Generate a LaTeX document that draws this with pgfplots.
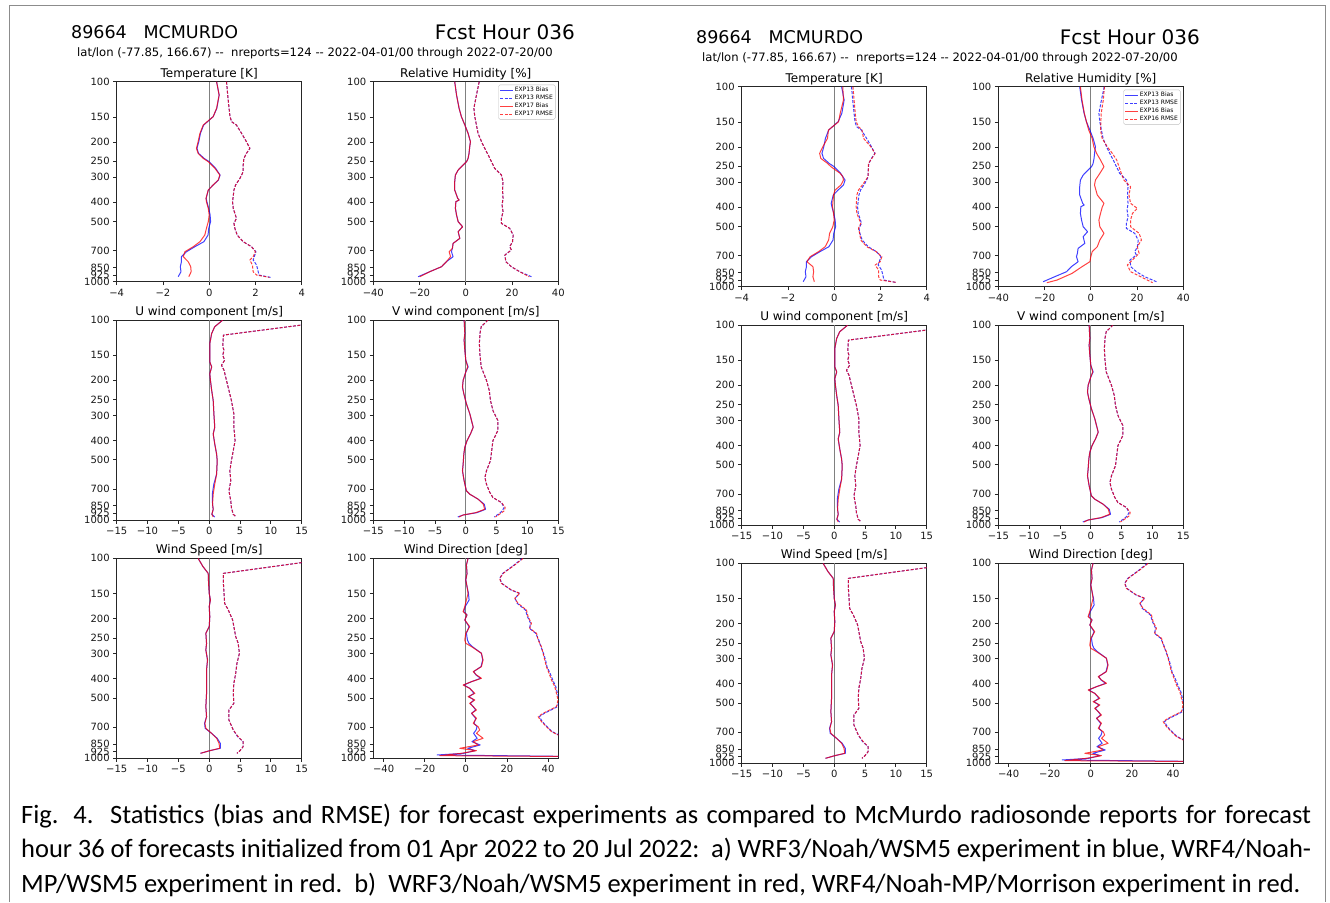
\documentclass[border=0pt]{standalone}
\usepackage{pgfplots}
\pgfplotsset{compat=1.18}
\usepackage{pgfplotstable}
\usepackage{fontspec}
\setmainfont{DejaVu Sans}
\newfontfamily\capfont{Carlito}

% global axis defaults (shared by all twelve panels)
\pgfplotsset{scale only axis, width=185pt, height=200pt}
\pgfplotsset{y dir=reverse, ymin=100, ymax=1000}
\pgfplotsset{ytick={100,150,200,250,300,400,500,700,850,925,1000},
    yticklabels={100,150,200,250,300,400,500,700,850,925,1000}}
\pgfplotsset{yminorticks=false, xminorticks=false, tick align=outside, tick pos=left, major tick length=3.5pt}
\pgfplotsset{tick style={black!85, line width=0.8pt}, axis line style={black!85, line width=0.9pt}}
\pgfplotsset{tick label style={font=\fontsize{10}{11}\selectfont, text=black!90}}
\pgfplotsset{title style={font=\fontsize{12}{13}\selectfont, inner sep=0pt, yshift=-4pt}}
\pgfplotsset{every axis plot/.append style={line width=1pt, line join=round}}
\pgfplotsset{legend cell align=left,
    legend style={at={(0.985,0.985)}, anchor=north east,
      font=\fontsize{6}{6.5}\selectfont, draw=black!25, line width=0.4pt,
      fill=white, rounded corners=1.5pt, inner xsep=1.5pt, inner ysep=1.2pt,
      nodes={inner sep=1pt}, row sep=0pt},
    legend image code/.code={\draw[#1, line width=0.8pt] (0pt,0pt) -- (13pt,0pt);}}
\tikzset{zline/.style={gray, line width=0.8pt, solid},
  sbA/.style={blue, draw opacity=0.75},
  srA/.style={blue, draw opacity=0.75, dash pattern=on 3pt off 1.5pt},
  sbR/.style={red, draw opacity=0.75},
  srR/.style={red, draw opacity=0.75, dash pattern=on 3pt off 1.5pt}}

% ---------------- EXP13 (blue) ----------------
\pgfplotstableread[row sep=\\]{
p v\\
100 0.32\\ 116.6 0.43\\ 135.9 0.33\\ 149.6 0.17\\ 164.8 -0.24\\ 181.3 -0.38\\ 199.5 -0.45\\ 215.4 -0.53\\
228.2 -0.46\\ 241.7 -0.22\\ 251.2 0.0\\ 271.3 0.28\\ 292.9 0.47\\ 310.2 0.40\\ 328.6 0.17\\ 348.1 -0.04\\
383.1 -0.13\\ 398.1 -0.10\\ 430.0 -0.02\\ 464.2 0.04\\ 501.2 0.06\\ 541.2 -0.02\\ 584.4 -0.05\\ 631.0 -0.23\\
668.3 -0.62\\ 707.9 -0.98\\ 749.9 -1.20\\ 794.3 -1.20\\ 841.4 -1.25\\ 891.3 -1.22\\ 944.1 -1.34\\
}\TbA
\pgfplotstableread[row sep=\\]{
p v\\
100 0.75\\ 116.6 0.80\\ 135.9 0.86\\ 149.6 0.90\\ 158.5 0.97\\ 164.8 1.18\\ 181.3 1.40\\ 199.5 1.61\\
215.4 1.76\\ 228.2 1.61\\ 241.7 1.50\\ 261.0 1.47\\ 281.8 1.47\\ 304.3 1.33\\ 328.6 1.14\\ 348.1 1.07\\
398.1 1.01\\ 430.0 1.04\\ 482.5 1.18\\ 510.9 1.07\\ 541.2 1.11\\ 584.4 1.21\\ 631.0 1.47\\ 668.3 1.83\\
707.9 2.02\\ 749.9 1.95\\ 779.1 1.90\\ 825.4 2.05\\ 891.3 2.12\\ 926.1 2.15\\ 951.3 2.65\\
}\TrA
\pgfplotstableread[row sep=\\]{
p v\\
100 -4.8\\ 116.6 -4.0\\ 135.9 -2.9\\ 149.6 -1.9\\ 164.8 -0.4\\ 181.3 1.0\\ 199.5 2.0\\ 211.3 1.7\\
228.2 1.4\\ 241.7 1.0\\ 251.2 0.3\\ 261.0 -1.2\\ 276.5 -3.3\\ 292.9 -4.5\\ 316.2 -4.8\\ 348.1 -4.8\\
383.1 -3.5\\ 390.5 -2.9\\ 398.1 -4.3\\ 430.0 -4.5\\ 464.2 -4.0\\ 501.2 -3.3\\ 530.9 -1.4\\ 562.3 -3.3\\
607.3 -2.6\\ 643.3 -5.5\\ 681.3 -5.8\\ 707.9 -6.2\\ 749.9 -5.5\\ 794.3 -8.4\\ 841.4 -10.5\\ 891.3 -15.6\\ 944.1 -20.6\\
}\HbA
\pgfplotstableread[row sep=\\]{
p v\\
100 5.8\\ 116.6 4.6\\ 135.9 3.5\\ 149.6 3.9\\ 164.8 4.6\\ 181.3 5.3\\ 199.5 6.8\\ 215.4 8.2\\
232.6 9.7\\ 251.2 11.1\\ 271.3 12.5\\ 292.9 15.4\\ 316.2 16.1\\ 348.1 15.9\\ 383.1 16.1\\ 413.7 15.7\\
446.7 16.1\\ 482.5 15.4\\ 510.9 15.4\\ 541.2 19.0\\ 584.4 20.5\\ 631.0 20.2\\ 668.3 19.0\\ 694.5 19.7\\
735.6 16.9\\ 794.3 17.3\\ 841.4 19.7\\ 891.3 23.3\\ 944.1 28.4\\
}\HrA
\pgfplotstableread[row sep=\\]{
p v\\
100 2.2\\ 108.0 0.9\\ 116.7 0.4\\ 131.0 0.1\\ 162.0 0.1\\ 171.6 0.4\\ 185.4 0.1\\ 200.3 0.2\\
224.8 0.4\\ 252.4 0.65\\ 294.4 0.76\\ 343.6 0.9\\ 371.1 0.65\\ 416.7 0.9\\ 467.7 1.2\\ 505.2 1.3\\
589.5 1.2\\ 662.0 0.75\\ 743.0 0.5\\ 834.4 0.54\\ 884.0 0.65\\ 936.6 0.43\\ 965.9 0.9\\
}\UbA
\pgfplotstableread[row sep=\\]{
p v\\
100 21.3\\ 119.0 2.3\\ 136.1 2.2\\ 141.5 2.4\\ 149.9 2.2\\ 158.9 2.5\\ 168.3 2.0\\ 178.3 2.4\\
200.3 2.8\\ 224.8 3.2\\ 252.4 3.6\\ 294.4 4.0\\ 343.6 4.0\\ 400.9 4.2\\ 450.0 3.9\\ 505.2 3.6\\
567.4 3.35\\ 636.8 3.5\\ 715.0 3.2\\ 802.6 3.5\\ 867.0 3.6\\ 936.6 3.9\\ 965.9 4.4\\
}\UrA
\pgfplotstableread[row sep=\\]{
p v\\
100 -0.27\\ 116.7 -0.16\\ 126.0 -0.27\\ 141.5 -0.16\\ 158.9 0.00\\ 171.6 0.38\\ 181.8 0.00\\ 200.3 -0.43\\
216.3 -0.54\\ 233.6 -0.32\\ 262.3 0.10\\ 294.4 0.65\\ 343.6 1.20\\ 371.1 0.76\\ 400.9 0.20\\ 433.0 -0.16\\
467.7 -0.32\\ 525.1 -0.43\\ 567.4 -0.54\\ 636.8 -0.27\\ 715.0 0.10\\ 743.0 0.65\\ 787.0 2.00\\ 834.4 3.00\\
884.0 3.20\\ 918.9 1.80\\ 943.9 -0.43\\ 965.9 -1.30\\
}\VbA
\pgfplotstableread[row sep=\\]{
p v\\
100 3.60\\ 108.0 2.50\\ 116.7 2.30\\ 131.0 2.20\\ 149.9 2.30\\ 171.6 2.50\\ 200.3 3.35\\ 224.8 3.80\\
252.4 4.00\\ 283.4 4.40\\ 318.1 5.20\\ 357.1 5.20\\ 400.9 4.40\\ 450.0 4.20\\ 505.2 4.00\\ 567.4 3.35\\
612.8 3.10\\ 662.0 3.35\\ 729.0 3.90\\ 772.2 4.40\\ 818.4 5.80\\ 867.0 6.20\\ 901.0 5.90\\ 929.5 5.40\\ 965.9 4.60\\
}\VrA
\pgfplotstableread[row sep=\\]{
p v\\
100 -1.8\\ 110.1 -1.0\\ 118.9 -0.16\\ 133.4 -0.1\\ 149.6 0.0\\ 161.6 0.2\\ 174.5 0.0\\ 195.7 0.1\\
219.6 0.0\\ 237.1 -0.54\\ 266.1 -0.43\\ 287.3 -0.54\\ 322.4 -0.27\\ 361.7 -0.43\\ 405.8 -0.43\\ 473.2 -0.43\\
551.7 -0.54\\ 618.9 -0.43\\ 668.3 -0.75\\ 707.9 -0.65\\ 749.9 0.38\\ 794.3 1.3\\ 841.4 1.8\\ 891.3 1.8\\
915.5 0.1\\ 944.1 -1.4\\
}\SbA
\pgfplotstableread[row sep=\\]{
p v\\
100 20.1\\ 118.9 2.3\\ 133.4 2.3\\ 149.6 2.4\\ 167.9 2.5\\ 181.3 3.1\\ 203.4 3.8\\ 219.6 4.0\\
246.4 4.3\\ 266.1 4.7\\ 298.5 4.9\\ 335.0 4.5\\ 375.8 4.3\\ 421.7 4.0\\ 473.2 3.9\\ 530.9 4.0\\
573.2 3.2\\ 643.3 3.2\\ 721.7 3.9\\ 779.1 4.6\\ 825.4 5.5\\ 874.2 5.5\\ 915.5 5.0\\ 944.1 4.5\\
}\SrA
\pgfplotstableread[row sep=\\]{
p v\\
100 1.1\\ 108.0 0.3\\ 118.9 0.6\\ 128.3 0.0\\ 138.6 0.6\\ 149.6 1.3\\ 161.6 1.6\\ 174.5 -0.3\\
184.8 -1.0\\ 192.0 0.6\\ 203.4 -0.5\\ 219.6 1.6\\ 237.1 0.3\\ 256.1 0.8\\ 266.1 1.5\\ 276.5 3.2\\
298.5 7.6\\ 322.4 8.2\\ 348.1 7.4\\ 368.7 3.8\\ 383.1 5.0\\ 398.1 7.2\\ 413.7 2.8\\ 430.0 -1.0\\
446.7 1.9\\ 473.2 4.0\\ 491.7 1.5\\ 510.9 4.0\\ 530.9 2.2\\ 551.7 3.6\\ 573.2 4.8\\ 595.7 2.8\\
631.0 4.8\\ 668.3 4.0\\ 694.5 5.5\\ 721.7 5.0\\ 749.9 3.8\\ 794.3 5.5\\ 825.4 3.0\\ 857.7 7.0\\
891.3 1.0\\ 915.5 4.5\\ 944.1 -1.0\\ 962.3 -13.9\\ 981.0 60\\
}\DbA
\pgfplotstableread[row sep=\\]{
p v\\
100 27.5\\ 108.0 23.5\\ 118.9 18.0\\ 125.9 16.5\\ 133.4 17.5\\ 144.0 22.0\\ 149.6 26.0\\ 158.5 24.0\\
167.9 25.0\\ 181.3 29.0\\ 195.7 30.0\\ 211.3 31.5\\ 223.9 31.0\\ 237.1 34.0\\ 256.1 35.5\\ 276.5 36.5\\
298.5 37.8\\ 322.4 38.8\\ 348.1 39.5\\ 375.8 41.0\\ 405.8 42.3\\ 438.3 43.8\\ 473.2 44.6\\ 510.9 45.6\\
551.7 44.6\\ 573.2 41.5\\ 595.7 38.2\\ 618.9 35.8\\ 655.6 37.2\\ 694.5 39.5\\ 735.6 42.0\\ 764.2 45.3\\
809.6 50\\ 981.0 55\\
}\DrA

% ---------------- red wind tables (shared) ----------------
\pgfplotstableread[row sep=\\]{
p v\\
100 1.1\\ 108.0 0.3\\ 118.9 0.6\\ 128.3 0.0\\ 138.6 0.6\\ 149.6 1.1\\ 161.6 0.3\\ 174.5 -0.5\\
184.8 -1.3\\ 192.0 0.6\\ 203.4 -0.5\\ 219.6 1.9\\ 237.1 0.0\\ 256.1 -0.5\\ 266.1 0.0\\ 276.5 2.8\\
298.5 7.6\\ 322.4 8.4\\ 348.1 7.6\\ 368.7 3.6\\ 383.1 5.2\\ 398.1 7.6\\ 413.7 2.8\\ 430.0 -1.3\\
446.7 1.9\\ 473.2 4.4\\ 491.7 1.1\\ 510.9 4.4\\ 530.9 1.9\\ 551.7 3.6\\ 573.2 5.2\\ 595.7 2.8\\
631.0 5.2\\ 668.3 3.6\\ 694.5 6.0\\ 721.7 6.8\\ 749.9 5.2\\ 794.3 8.4\\ 825.4 3.6\\ 857.7 6.0\\
891.3 -2.9\\ 915.5 5.2\\ 944.1 -2.1\\ 969.7 -12.6\\ 981.0 60\\
}\DbR
\pgfplotstableread[row sep=\\]{
p v\\
100 27.9\\ 108.0 23.8\\ 118.9 18.2\\ 125.9 16.5\\ 133.4 17.3\\ 144.0 22.2\\ 149.6 26.3\\ 158.5 23.8\\
167.9 25.4\\ 181.3 29.5\\ 195.7 30.3\\ 211.3 31.9\\ 223.9 31.1\\ 237.1 34.4\\ 256.1 35.2\\ 276.5 36.8\\
298.5 37.6\\ 322.4 38.4\\ 348.1 39.2\\ 375.8 40.5\\ 405.8 41.7\\ 438.3 43.3\\ 473.2 44.1\\ 510.9 44.9\\
551.7 44.1\\ 573.2 40.8\\ 595.7 37.6\\ 618.9 35.2\\ 655.6 36.8\\ 694.5 39.2\\ 735.6 41.7\\ 764.2 44.9\\
809.6 50\\ 981.0 55\\
}\DrR
\pgfplotstableread[row sep=\\]{
p v\\
100 2.2\\ 108.0 0.9\\ 116.7 0.4\\ 131.0 0.1\\ 162.0 0.1\\ 171.6 0.4\\ 185.4 0.1\\ 200.3 0.2\\
224.8 0.4\\ 252.4 0.65\\ 294.4 0.76\\ 343.6 0.9\\ 371.1 0.65\\ 416.7 0.9\\ 467.7 1.2\\ 505.2 1.3\\
589.5 1.2\\ 662.0 0.9\\ 743.0 0.65\\ 834.4 0.54\\ 884.0 0.65\\ 936.6 0.43\\ 965.9 0.65\\
}\UbR
\pgfplotstableread[row sep=\\]{
p v\\
100 21.3\\ 119.0 2.3\\ 136.1 2.2\\ 141.5 2.4\\ 149.9 2.2\\ 158.9 2.5\\ 168.3 2.0\\ 178.3 2.4\\
200.3 2.8\\ 224.8 3.2\\ 252.4 3.6\\ 294.4 4.0\\ 343.6 4.0\\ 400.9 4.2\\ 450.0 3.9\\ 505.2 3.6\\
567.4 3.35\\ 636.8 3.5\\ 715.0 3.2\\ 802.6 3.5\\ 867.0 3.6\\ 936.6 3.9\\ 965.9 4.4\\
}\UrR
\pgfplotstableread[row sep=\\]{
p v\\
100 -0.27\\ 116.7 -0.16\\ 126.0 -0.27\\ 141.5 -0.16\\ 158.9 0.00\\ 171.6 0.30\\ 181.8 0.00\\ 200.3 -0.43\\
216.3 -0.54\\ 233.6 -0.32\\ 262.3 0.10\\ 294.4 0.65\\ 343.6 1.20\\ 371.1 0.76\\ 400.9 0.20\\ 433.0 -0.16\\
467.7 -0.32\\ 525.1 -0.43\\ 567.4 -0.54\\ 636.8 -0.27\\ 715.0 0.10\\ 743.0 0.65\\ 787.0 2.00\\ 834.4 2.85\\
884.0 3.05\\ 918.9 1.60\\ 943.9 -0.43\\ 965.9 -1.10\\
}\VbR
\pgfplotstableread[row sep=\\]{
p v\\
100 3.60\\ 108.0 2.50\\ 116.7 2.30\\ 131.0 2.20\\ 149.9 2.30\\ 171.6 2.50\\ 200.3 3.35\\ 224.8 3.80\\
252.4 4.00\\ 283.4 4.40\\ 318.1 5.20\\ 357.1 5.20\\ 400.9 4.40\\ 450.0 4.20\\ 505.2 4.00\\ 567.4 3.35\\
612.8 3.10\\ 662.0 3.35\\ 729.0 3.90\\ 772.2 4.40\\ 818.4 5.80\\ 867.0 6.40\\ 901.0 6.20\\ 929.5 5.60\\ 965.9 4.80\\
}\VrR
\pgfplotstableread[row sep=\\]{
p v\\
100 -1.8\\ 110.1 -1.0\\ 118.9 -0.16\\ 133.4 -0.1\\ 149.6 0.0\\ 161.6 0.2\\ 174.5 0.0\\ 195.7 0.1\\
219.6 0.0\\ 237.1 -0.54\\ 266.1 -0.43\\ 287.3 -0.54\\ 322.4 -0.27\\ 361.7 -0.43\\ 405.8 -0.43\\ 473.2 -0.43\\
551.7 -0.54\\ 618.9 -0.43\\ 668.3 -0.7\\ 707.9 -0.54\\ 749.9 0.38\\ 794.3 1.2\\ 841.4 1.6\\ 891.3 1.7\\
915.5 0.1\\ 944.1 -1.4\\
}\SbR
\pgfplotstableread[row sep=\\]{
p v\\
100 20.1\\ 118.9 2.3\\ 133.4 2.3\\ 149.6 2.4\\ 167.9 2.5\\ 181.3 3.1\\ 203.4 3.8\\ 219.6 4.0\\
246.4 4.3\\ 266.1 4.7\\ 298.5 4.9\\ 335.0 4.5\\ 375.8 4.3\\ 421.7 4.0\\ 473.2 3.9\\ 530.9 4.0\\
573.2 3.2\\ 643.3 3.2\\ 721.7 3.9\\ 779.1 4.7\\ 825.4 5.5\\ 874.2 5.5\\ 915.5 5.0\\ 944.1 4.5\\
}\SrR

% ---------------- EXP17 temperature / RH ----------------
\pgfplotstableread[row sep=\\]{
p v\\
100 0.32\\ 116.6 0.43\\ 135.9 0.32\\ 149.6 0.17\\ 164.8 -0.26\\ 181.3 -0.40\\ 199.5 -0.48\\ 215.4 -0.55\\
228.2 -0.48\\ 241.7 -0.26\\ 251.2 -0.04\\ 271.3 0.25\\ 292.9 0.46\\ 310.2 0.39\\ 328.6 0.17\\ 348.1 -0.04\\
383.1 -0.14\\ 398.1 -0.12\\ 430.0 -0.04\\ 464.2 0.00\\ 501.2 -0.04\\ 541.2 -0.12\\ 584.4 -0.19\\ 631.0 -0.40\\
668.3 -0.69\\ 707.9 -1.05\\ 749.9 -1.12\\ 794.3 -0.91\\ 841.4 -0.80\\ 891.3 -0.78\\ 944.1 -0.88\\
}\TbQ
\pgfplotstableread[row sep=\\]{
p v\\
100 0.75\\ 116.6 0.80\\ 135.9 0.86\\ 149.6 0.90\\ 158.5 0.97\\ 164.8 1.18\\ 181.3 1.40\\ 199.5 1.61\\
215.4 1.76\\ 228.2 1.61\\ 241.7 1.50\\ 261.0 1.47\\ 281.8 1.47\\ 304.3 1.33\\ 328.6 1.14\\ 348.1 1.07\\
398.1 1.01\\ 430.0 1.04\\ 482.5 1.18\\ 510.9 1.07\\ 541.2 1.11\\ 584.4 1.21\\ 631.0 1.47\\ 668.3 1.83\\
707.9 2.00\\ 749.9 1.90\\ 779.1 1.76\\ 825.4 1.87\\ 891.3 1.90\\ 926.1 2.05\\ 951.3 2.60\\
}\TrQ
\pgfplotstableread[row sep=\\]{
p v\\
100 -4.8\\ 116.6 -4.0\\ 135.9 -2.9\\ 149.6 -1.9\\ 164.8 -0.4\\ 181.3 1.0\\ 199.5 2.0\\ 211.3 1.7\\
228.2 1.4\\ 241.7 1.0\\ 251.2 0.3\\ 261.0 -1.2\\ 276.5 -3.3\\ 292.9 -4.5\\ 316.2 -4.8\\ 348.1 -4.8\\
383.1 -3.5\\ 390.5 -2.9\\ 398.1 -4.3\\ 430.0 -4.5\\ 464.2 -4.0\\ 501.2 -3.3\\ 530.9 -1.4\\ 562.3 -3.3\\
607.3 -2.6\\ 643.3 -5.5\\ 681.3 -5.8\\ 707.9 -7.2\\ 749.9 -6.6\\ 794.3 -8.4\\ 841.4 -10.5\\ 891.3 -15.6\\ 944.1 -19.9\\
}\HbQ
\pgfplotstableread[row sep=\\]{
p v\\
100 5.8\\ 116.6 4.6\\ 135.9 3.5\\ 149.6 3.9\\ 164.8 4.6\\ 181.3 5.3\\ 199.5 6.8\\ 215.4 8.2\\
232.6 9.7\\ 251.2 11.1\\ 271.3 12.5\\ 292.9 15.4\\ 316.2 16.1\\ 348.1 15.9\\ 383.1 16.1\\ 413.7 15.7\\
446.7 16.1\\ 482.5 15.4\\ 510.9 15.4\\ 541.2 19.0\\ 584.4 20.5\\ 631.0 20.2\\ 668.3 19.0\\ 694.5 19.7\\
735.6 16.9\\ 794.3 17.3\\ 841.4 19.7\\ 891.3 23.3\\ 944.1 27.4\\
}\HrQ

% ---------------- EXP16 temperature / RH ----------------
\pgfplotstableread[row sep=\\]{
p v\\
100 0.37\\ 116.6 0.40\\ 135.9 0.26\\ 149.6 0.19\\ 164.8 -0.25\\ 181.3 -0.29\\ 199.5 -0.49\\ 215.4 -0.63\\
228.2 -0.58\\ 241.7 -0.29\\ 251.2 -0.14\\ 271.3 0.26\\ 281.8 0.37\\ 292.9 0.40\\ 310.2 0.29\\ 328.6 0.04\\
348.1 -0.03\\ 383.1 -0.06\\ 398.1 -0.07\\ 430.0 -0.03\\ 464.2 0.00\\ 501.2 -0.06\\ 541.2 -0.20\\ 584.4 -0.24\\
631.0 -0.39\\ 668.3 -0.68\\ 707.9 -1.04\\ 749.9 -1.18\\ 794.3 -0.92\\ 841.4 -0.89\\ 891.3 -0.92\\ 944.1 -0.86\\
}\TbP
\pgfplotstableread[row sep=\\]{
p v\\
100 0.81\\ 116.6 0.86\\ 135.9 0.91\\ 149.6 0.95\\ 158.5 1.05\\ 164.8 1.20\\ 181.3 1.27\\ 199.5 1.58\\
215.4 1.77\\ 228.2 1.63\\ 241.7 1.48\\ 261.0 1.48\\ 281.8 1.46\\ 304.3 1.27\\ 328.6 1.05\\ 348.1 0.98\\
398.1 0.95\\ 430.0 0.98\\ 482.5 1.15\\ 510.9 1.05\\ 541.2 1.10\\ 584.4 1.15\\ 631.0 1.41\\ 668.3 1.82\\
707.9 2.06\\ 749.9 1.99\\ 779.1 1.77\\ 825.4 1.92\\ 891.3 1.92\\ 926.1 1.99\\ 951.3 2.68\\
}\TrP
\pgfplotstableread[row sep=\\]{
p v\\
100 -4.5\\ 116.6 -3.8\\ 135.9 -2.8\\ 149.6 -1.9\\ 164.8 -0.9\\ 181.3 0.6\\ 199.5 1.3\\ 215.4 2.5\\
232.6 4.2\\ 251.2 5.7\\ 271.3 3.9\\ 292.9 2.0\\ 310.2 1.6\\ 348.1 2.8\\ 383.1 5.7\\ 398.1 5.0\\
430.0 4.2\\ 464.2 3.5\\ 501.2 3.9\\ 541.2 5.7\\ 584.4 3.9\\ 631.0 2.8\\ 668.3 0.6\\ 707.9 0.0\\
749.9 -0.4\\ 794.3 -3.8\\ 857.7 -8.1\\ 926.1 -14.6\\ 955.0 -19.0\\
}\HbP
\pgfplotstableread[row sep=\\]{
p v\\
100 5.9\\ 116.6 5.4\\ 135.9 4.5\\ 164.8 4.2\\ 181.3 4.9\\ 199.5 7.1\\ 215.4 9.3\\ 232.6 11.2\\
251.2 12.2\\ 271.3 13.2\\ 292.9 14.3\\ 316.2 17.2\\ 348.1 16.5\\ 383.1 17.2\\ 405.8 20.1\\ 430.0 18.0\\
464.2 17.2\\ 501.2 17.2\\ 541.2 20.9\\ 584.4 21.9\\ 631.0 20.1\\ 681.3 20.9\\ 721.7 18.7\\ 779.1 15.8\\
841.4 17.2\\ 891.3 21.6\\ 955.0 26.7\\
}\HrP

% #1 x offset, #2 y offset, #3 experiment number, #4-#7 red T bias, T rmse, RH bias, RH rmse
\newcommand{\drawgroup}[7]{%
  \node[anchor=base west, font=\fontsize{17.5}{20}\selectfont, inner sep=0pt] at ({(71+#1)*1pt},{-(38.5+#2)*1pt}) {89664\ \ \ MCMURDO};
  \node[anchor=base east, font=\fontsize{20}{23}\selectfont, inner sep=0pt] at ({(575+#1)*1pt},{-(39+#2)*1pt}) {Fcst Hour 036};
  \node[anchor=base west, font=\fontsize{11.6}{13}\selectfont, inner sep=0pt] at ({(77+#1)*1pt},{-(56+#2)*1pt}) {lat/lon (-77.85, 166.67) {-}{-}\ \ nreports=124 {-}{-} 2022-04-01/00 through 2022-07-20/00};
  \begin{axis}[ymode=log, anchor=north west, at={({(116.7+#1)*1pt},{-(81.7+#2)*1pt})}, title={Temperature [K]},
      xmin=-4, xmax=4, xtick={-4,-2,0,2,4}, xticklabels={−4,−2,0,2,4}]
    \addplot[zline, forget plot] coordinates {(0,100) (0,1000)};
    \addplot[sbA] table[x=v,y=p] {\TbA};
    \addplot[srA] table[x=v,y=p] {\TrA};
    \addplot[sbR] table[x=v,y=p] {#4};
    \addplot[srR] table[x=v,y=p] {#5};
  \end{axis}
  \begin{axis}[ymode=log, anchor=north west, at={({(373.3+#1)*1pt},{-(81.7+#2)*1pt})}, title={Relative Humidity [\%]},
      xmin=-40, xmax=40, xtick={-40,-20,0,20,40}, xticklabels={−40,−20,0,20,40}]
    \addplot[zline, forget plot] coordinates {(0,100) (0,1000)};
    \addplot[sbA] table[x=v,y=p] {\HbA}; \addlegendentry{EXP13 Bias}
    \addplot[srA] table[x=v,y=p] {\HrA}; \addlegendentry{EXP13 RMSE}
    \addplot[sbR] table[x=v,y=p] {#6}; \addlegendentry{EXP#3 Bias}
    \addplot[srR] table[x=v,y=p] {#7}; \addlegendentry{EXP#3 RMSE}
  \end{axis}
  \begin{axis}[ymode=log, anchor=north west, at={({(116.7+#1)*1pt},{-(320+#2)*1pt})}, title={U wind component [m/s]},
      xmin=-15, xmax=15, xtick={-15,-10,-5,0,5,10,15}, xticklabels={−15,−10,−5,0,5,10,15}]
    \addplot[zline, forget plot] coordinates {(0,100) (0,1000)};
    \addplot[sbA] table[x=v,y=p] {\UbA};
    \addplot[srA] table[x=v,y=p] {\UrA};
    \addplot[sbR] table[x=v,y=p] {\UbR};
    \addplot[srR] table[x=v,y=p] {\UrR};
  \end{axis}
  \begin{axis}[ymode=log, anchor=north west, at={({(373.3+#1)*1pt},{-(320+#2)*1pt})}, title={V wind component [m/s]},
      xmin=-15, xmax=15, xtick={-15,-10,-5,0,5,10,15}, xticklabels={−15,−10,−5,0,5,10,15}]
    \addplot[zline, forget plot] coordinates {(0,100) (0,1000)};
    \addplot[sbA] table[x=v,y=p] {\VbA};
    \addplot[srA] table[x=v,y=p] {\VrA};
    \addplot[sbR] table[x=v,y=p] {\VbR};
    \addplot[srR] table[x=v,y=p] {\VrR};
  \end{axis}
  \begin{axis}[ymode=log, anchor=north west, at={({(116.7+#1)*1pt},{-(558.3+#2)*1pt})}, title={Wind Speed [m/s]},
      xmin=-15, xmax=15, xtick={-15,-10,-5,0,5,10,15}, xticklabels={−15,−10,−5,0,5,10,15}]
    \addplot[zline, forget plot] coordinates {(0,100) (0,1000)};
    \addplot[sbA] table[x=v,y=p] {\SbA};
    \addplot[srA] table[x=v,y=p] {\SrA};
    \addplot[sbR] table[x=v,y=p] {\SbR};
    \addplot[srR] table[x=v,y=p] {\SrR};
  \end{axis}
  \begin{axis}[ymode=log, anchor=north west, at={({(373.3+#1)*1pt},{-(558.3+#2)*1pt})}, title={Wind Direction [deg]},
      xmin=-45, xmax=45, xtick={-40,-20,0,20,40}, xticklabels={−40,−20,0,20,40}]
    \addplot[zline, forget plot] coordinates {(0,100) (0,1000)};
    \addplot[sbA] table[x=v,y=p] {\DbA};
    \addplot[srA] table[x=v,y=p] {\DrA};
    \addplot[sbR] table[x=v,y=p] {\DbR};
    \addplot[srR] table[x=v,y=p] {\DrR};
  \end{axis}
}

\begin{document}
\begin{tikzpicture}
\path[use as bounding box] (0,0) rectangle (1330pt,-902pt);
\fill[white] (0,0) rectangle (1330pt,-902pt);
\draw[black!45, line width=1pt] (9pt,-902pt) -- (9pt,-5pt) -- (1325pt,-5pt) -- (1325pt,-902pt);

\drawgroup{0}{0}{17}{\TbQ}{\TrQ}{\HbQ}{\HrQ}
\drawgroup{625}{5}{16}{\TbP}{\TrP}{\HbP}{\HrP}

\node[anchor=base west, inner sep=0pt, font=\capfont\fontsize{26.5}{30}\selectfont] at (21pt,-823pt)
  {\makebox[1290pt][s]{Fig. 4.\ \ Statistics (bias and RMSE) for forecast experiments as compared to McMurdo radiosonde reports for forecast}};
\node[anchor=base west, inner sep=0pt, font=\capfont\fontsize{26.5}{30}\selectfont] at (21pt,-857.5pt)
  {\makebox[1290pt][s]{hour 36 of forecasts initialized from 01 Apr 2022 to 20 Jul 2022:\ \ a) WRF3/Noah/WSM5 experiment in blue, WRF4/Noah-}};
\node[anchor=base west, inner sep=0pt, font=\capfont\fontsize{26.5}{30}\selectfont] at (21pt,-892pt)
  {MP/WSM5 experiment in red.\ \ b)\ \ WRF3/Noah/WSM5 experiment in red, WRF4/Noah-MP/Morrison experiment in red.};
\end{tikzpicture}
\end{document}
